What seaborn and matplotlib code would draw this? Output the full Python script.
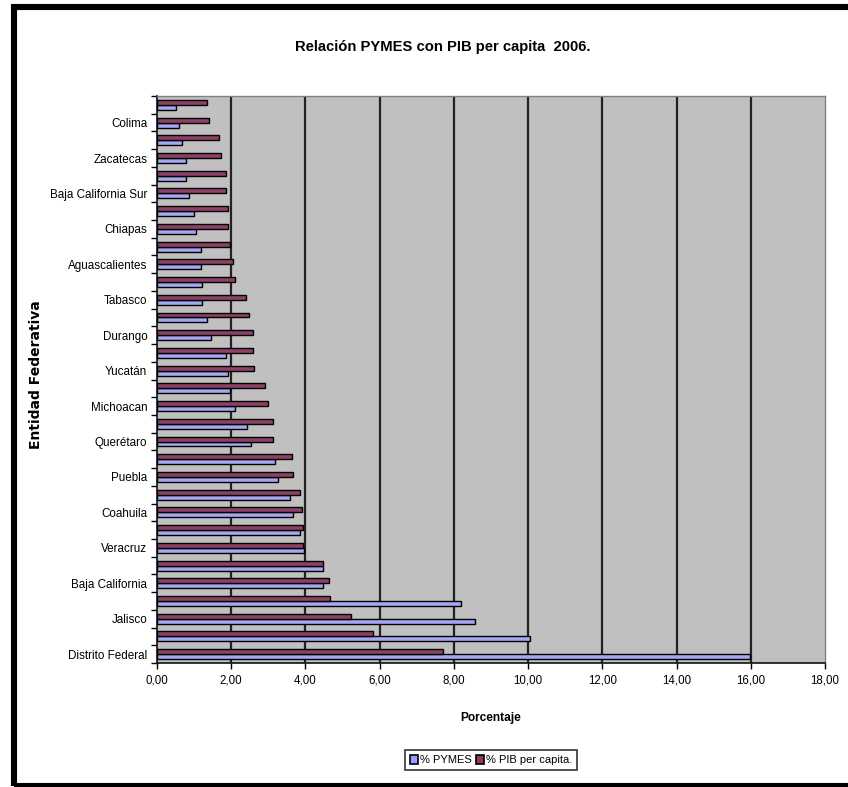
import matplotlib
matplotlib.use("Agg")
import matplotlib.pyplot as plt
from matplotlib.patches import Rectangle
from matplotlib.ticker import FixedLocator, FuncFormatter
import pandas as pd
import seaborn as sns

# Entities listed from the bottom of the chart upward
entidades = [
    "Distrito Federal", "México", "Jalisco", "Nuevo León",
    "Baja California", "Chihuahua", "Veracruz", "Tamaulipas",
    "Coahuila", "Sonora", "Puebla", "Guanajuato",
    "Querétaro", "Sinaloa", "Michoacan", "Hidalgo",
    "Yucatán", "San Luis Potosí", "Durango", "Quintana Roo",
    "Tabasco", "Oaxaca", "Aguascalientes", "Morelos",
    "Chiapas", "Guerrero", "Baja California Sur", "Nayarit",
    "Zacatecas", "Campeche", "Colima", "Tlaxcala",
]
pymes = [
    15.98, 10.06, 8.57, 8.20, 4.48, 4.48, 3.97, 3.85,
    3.67, 3.58, 3.26, 3.17, 2.53, 2.43, 2.09, 1.98,
    1.90, 1.86, 1.45, 1.36, 1.22, 1.22, 1.18, 1.18,
    1.04, 0.99, 0.85, 0.77, 0.77, 0.67, 0.58, 0.52,
]
pib_per_capita = [
    7.72, 5.82, 5.22, 4.67, 4.63, 4.48, 3.94, 3.94,
    3.90, 3.85, 3.67, 3.63, 3.13, 3.13, 2.98, 2.90,
    2.62, 2.58, 2.58, 2.49, 2.40, 2.09, 2.04, 1.97,
    1.90, 1.90, 1.86, 1.86, 1.72, 1.67, 1.40, 1.36,
]
series = ["% PYMES", "% PIB per capita."]
x_ticks = [0, 2, 4, 6, 8, 10, 12, 14, 16, 18]

df = pd.DataFrame({
    "Entidad": entidades * 2,
    "Porcentaje": pymes + pib_per_capita,
    "Serie": [series[0]] * len(entidades) + [series[1]] * len(entidades),
})

plt.rcParams["font.family"] = ["Liberation Sans", "DejaVu Sans"]

W, H = 848, 787
fig = plt.figure(figsize=(W / 100, H / 100), dpi=100)
fig.patch.set_facecolor("white")
ax = fig.add_axes([157 / W, 1 - 663 / H, (825 - 157) / W, (663 - 96) / H])

sns.barplot(
    data=df, y="Entidad", x="Porcentaje", hue="Serie",
    order=entidades, hue_order=series,
    palette=["#9999FF", "#993366"], width=0.56,
    edgecolor="black", linewidth=1.0, orient="h",
    legend=False, ax=ax, zorder=3,
)

ax.set_facecolor("#C0C0C0")
ax.set_xlim(0, 18)
ax.set_ylim(-0.5, len(entidades) - 0.5)

# vertical grid lines
ax.xaxis.set_major_locator(FixedLocator(x_ticks))
ax.xaxis.set_major_formatter(FuncFormatter(lambda v, p: f"{v:.2f}".replace(".", ",")))
for v in x_ticks[1:-1]:
    ax.axvline(v, color="#222222", lw=1.6, zorder=1)
ax.tick_params(axis="x", length=4, width=1, direction="out", labelsize=8.3, pad=4)

# category labels on every other entity, ticks at category boundaries
ax.set_yticks(range(0, len(entidades), 2))
ax.set_yticklabels(entidades[0::2], fontsize=8.4)
ax.tick_params(axis="y", which="major", length=0, pad=7)
ax.yaxis.set_minor_locator(FixedLocator([i - 0.5 for i in range(len(entidades) + 1)]))
ax.tick_params(axis="y", which="minor", length=4, width=1, direction="out")

for side in ["left", "bottom"]:
    ax.spines[side].set_color("#111111")
    ax.spines[side].set_linewidth(1.2)
for side in ["top", "right"]:
    ax.spines[side].set_color("#808080")
    ax.spines[side].set_linewidth(1.0)

ax.set_xlabel("Porcentaje", fontsize=8.6, fontweight="bold", labelpad=19)
ax.set_ylabel("")
fig.text(36 / W, 1 - 375 / H, "Entidad Federativa", rotation=90,
         ha="center", va="center", fontsize=10, fontweight="bold",
         family=["DejaVu Sans"])

fig.text(443 / W, 1 - 47 / H, "Relación PYMES con PIB per capita  2006.",
         ha="center", va="center", fontsize=10.6, fontweight="bold")

handles = [Rectangle((0, 0), 1, 1, facecolor=c, edgecolor="black", lw=1.2)
           for c in ["#9999FF", "#993366"]]
leg = fig.legend(handles, series, loc="center", bbox_to_anchor=(491 / W, 1 - 760 / H),
                 ncol=2, fontsize=8, frameon=True, fancybox=False,
                 handlelength=0.7, handleheight=0.9, handletextpad=0.2,
                 columnspacing=0.4, borderpad=0.4, borderaxespad=0)
leg.get_frame().set_edgecolor("black")
leg.get_frame().set_linewidth(1.2)

# outer chart frame; its right edge runs past the image
fig.patches.append(Rectangle((14 / W, 1 - 786 / H), (870 - 14) / W, (786 - 7) / H,
                             transform=fig.transFigure, fill=False,
                             edgecolor="black", lw=4.4))

fig.savefig("out.png", dpi=100, facecolor="white")
